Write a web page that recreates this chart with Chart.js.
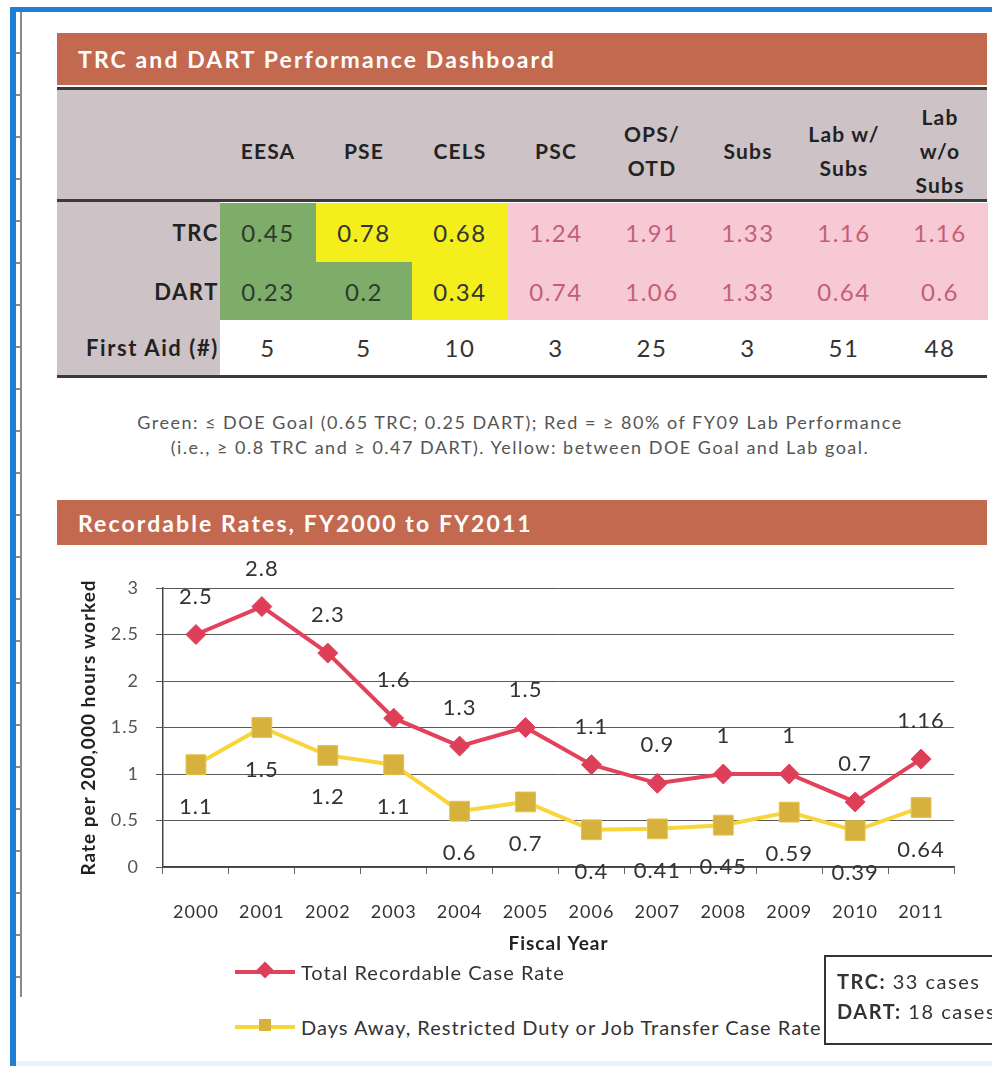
<!DOCTYPE html>
<html>
<head>
<meta charset="utf-8">
<script src="https://cdn.jsdelivr.net/npm/chart.js@4.4.1/dist/chart.umd.min.js"></script>
<style>
body{margin:0;width:992px;height:1066px;background:#fff;position:relative;overflow:hidden;font-family:Lato,"Open Sans",sans-serif;color:#333}
.abs{position:absolute}
#frameTop{left:10px;top:7px;width:982px;height:5px;background:#1f7fd6}
#frameLeft{left:10px;top:7px;width:6px;height:1059px;background:#1f7fd6}
#ruler{left:16px;top:12px;width:6px;height:985px;border-right:2px solid #8a8a8a;box-sizing:border-box;background:repeating-linear-gradient(to bottom,transparent 0,transparent 40px,#8a8a8a 40px,#8a8a8a 42px)}
#bottomBand{left:16px;top:1061px;width:976px;height:5px;background:#e2f5fb}
.band{left:57px;width:930px;background:#c3694f;color:#fff;font-weight:bold;font-size:23px;letter-spacing:2.1px;padding-left:21px;box-sizing:border-box;display:flex;align-items:center}
.cell{position:absolute;display:flex;align-items:center;justify-content:center;text-align:center;box-sizing:border-box}
.hline{position:absolute;left:57px;width:930px;height:3px;background:#3a3a3a}
#note{left:60px;width:920px;top:410px;text-align:center;font-size:18px;letter-spacing:1.5px;line-height:25px;color:#555}
.legItem{position:absolute;left:235px;height:30px;display:flex;align-items:center;font-size:20px;letter-spacing:1px;color:#333}
.legItem .sample{position:relative;width:60px;height:4px;margin-right:6px}
.legItem .mark{position:absolute;left:24px;top:-6px;width:12px;height:12px}
#caseBox{left:824px;top:955px;width:190px;height:90px;border:2.5px solid #333;box-sizing:border-box;padding:9px 0 0 11px;font-size:20px;letter-spacing:1.5px;line-height:30px;color:#333}
</style>
</head>
<body>
<div class="abs" id="frameTop"></div>
<div class="abs" id="frameLeft"></div>
<div class="abs" id="ruler"></div>
<div class="abs" id="bottomBand"></div>

<div class="abs band" style="top:33px;height:52px">TRC and DART Performance Dashboard</div>
<div id="table"></div>

<div class="abs" id="note">Green: ≤ DOE Goal (0.65 TRC; 0.25 DART); Red = ≥ 80% of FY09 Lab Performance<br>(i.e., ≥ 0.8 TRC and ≥ 0.47 DART). Yellow: between DOE Goal and Lab goal.</div>

<div class="abs band" style="top:500px;height:45px">Recordable Rates, FY2000 to FY2011</div>

<canvas id="rates" class="abs" style="left:60px;top:550px" width="932" height="420"></canvas>

<div class="legItem" style="top:957px"><div class="sample" style="background:#e3425c"><div class="mark" style="background:#dd3e58;transform:rotate(45deg)"></div></div>Total Recordable Case Rate</div>
<div class="legItem" style="top:1012px"><div class="sample" style="background:#f8d53a"><div class="mark" style="background:#d6b13e"></div></div>Days Away, Restricted Duty or Job Transfer Case Rate</div>

<div class="abs" id="caseBox"><b>TRC:</b> 33 cases<br><b>DART:</b> 18 cases</div>

<script>
// dashboard table
const units = ['EESA', 'PSE', 'CELS', 'PSC', 'OPS/<br>OTD', 'Subs', 'Lab w/<br>Subs', 'Lab<br>w/o<br>Subs']
const trcByUnit = ['0.45', '0.78', '0.68', '1.24', '1.91', '1.33', '1.16', '1.16']
const dartByUnit = ['0.23', '0.2', '0.34', '0.74', '1.06', '1.33', '0.64', '0.6']
const firstAid = ['5', '5', '10', '3', '25', '3', '51', '48']

// goals used for the cell colours
const trcGoal = 0.65, trcRed = 0.8
const dartGoal = 0.25, dartRed = 0.47

// chart data
const years = ['2000', '2001', '2002', '2003', '2004', '2005', '2006', '2007', '2008', '2009', '2010', '2011']
const trcRates = [2.5, 2.8, 2.3, 1.6, 1.3, 1.5, 1.1, 0.9, 1, 1, 0.7, 1.16]
const dartRates = [1.1, 1.5, 1.2, 1.1, 0.6, 0.7, 0.4, 0.41, 0.45, 0.59, 0.39, 0.64]
const yTicks = [0, 0.5, 1, 1.5, 2, 2.5, 3]

const GRAY = '#cdc2c6', GREEN = '#7dad69', YELLOW = '#f4ef1c', PINK = '#f7c9d4'

function cellStyle(v, goal, red){
	v = parseFloat(v)
	if(v <= goal) return {bg:GREEN, fg:'#2e3a2c'}
	if(v >= red) return {bg:PINK, fg:'#c45e78'}
	return {bg:YELLOW, fg:'#333'}
}

let tbl = document.getElementById('table')
let html = ''
const colX = 220, colW = 96
const valFont = 'font-size:24px;letter-spacing:1.5px'
html += `<div class="cell" style="left:57px;top:90px;width:163px;height:285px;background:${GRAY}"></div>`
html += `<div class="cell" style="left:220px;top:90px;width:767px;height:110px;background:${GRAY}"></div>`
units.forEach((u, i) => {
	let x = colX + i * colW
	html += `<div class="cell" style="left:${x}px;top:92px;width:${colW}px;height:118px;font-weight:bold;font-size:21px;letter-spacing:1.2px;line-height:34px;color:#222">${u}</div>`
	let t = cellStyle(trcByUnit[i], trcGoal, trcRed)
	let d = cellStyle(dartByUnit[i], dartGoal, dartRed)
	html += `<div class="cell" style="left:${x}px;top:203px;width:${colW}px;height:59px;background:${t.bg};color:${t.fg};${valFont}">${trcByUnit[i]}</div>`
	html += `<div class="cell" style="left:${x}px;top:262px;width:${colW}px;height:58px;background:${d.bg};color:${d.fg};${valFont}">${dartByUnit[i]}</div>`
	html += `<div class="cell" style="left:${x}px;top:320px;width:${colW}px;height:55px;background:#fff;color:#333;${valFont}">${firstAid[i]}</div>`
})
const rowLabels = [['TRC', 203, 59], ['DART', 262, 58], ['First Aid (#)', 320, 55]]
rowLabels.forEach(r => {
	html += `<div class="cell" style="left:57px;top:${r[1]}px;width:162px;height:${r[2]}px;justify-content:flex-end;font-weight:bold;font-size:22px;letter-spacing:1.6px;color:#222">${r[0]}</div>`
})
html += '<div class="hline" style="top:87px"></div><div class="hline" style="top:199px"></div><div class="hline" style="top:375px"></div>'
tbl.innerHTML = html

// slightly wider lettering, like the scanned original
const spacing = {
	id: 'spacing',
	beforeUpdate(chart){ chart.ctx.letterSpacing = '1px' },
	beforeDraw(chart){ chart.ctx.letterSpacing = '1px' }
}

// value labels over/under the points
const pointLabels = {
	id: 'pointLabels',
	afterDatasetsDraw(chart){
		let ctx = chart.ctx
		chart.data.datasets.forEach((ds, i) => {
			let meta = chart.getDatasetMeta(i)
			let dy = i === 0 ? -38 : 42
			meta.data.forEach((pt, j) => {
				ctx.save()
				ctx.font = '22px Lato, "Open Sans", sans-serif'
				ctx.letterSpacing = '1px'
				ctx.fillStyle = '#333'
				ctx.textAlign = 'center'
				ctx.textBaseline = 'middle'
				ctx.fillText(String(ds.data[j]), pt.x, pt.y + dy)
				ctx.restore()
			})
		})
	}
}

new Chart(document.getElementById('rates'), {
	type: 'line',
	data: {
		labels: years,
		datasets: [
			{
				label: 'Total Recordable Case Rate',
				data: trcRates,
				borderColor: '#e3425c',
				backgroundColor: '#dd3e58',
				borderWidth: 4,
				pointStyle: 'rectRot',
				pointRadius: 10,
				pointBorderWidth: 1,
				tension: 0
			},
			{
				label: 'Days Away, Restricted Duty or Job Transfer Case Rate',
				data: dartRates,
				borderColor: '#f8d53a',
				backgroundColor: '#d6b13e',
				pointBorderColor: '#e4c246',
				borderWidth: 4,
				pointStyle: 'rect',
				pointRadius: 14,
				pointBorderWidth: 1,
				tension: 0
			}
		]
	},
	options: {
		responsive: false,
		animation: false,
		layout: {padding: {top: 38, right: 38, left: 0, bottom: 0}},
		plugins: {legend: {display: false}, tooltip: {enabled: false}},
		scales: {
			x: {
				offset: true,
				afterFit(scale){ scale.height = 103 },
				grid: {display: true, drawOnChartArea: false, offset: true, tickLength: 7, color: '#666'},
				border: {color: '#444', width: 1.5},
				ticks: {font: {size: 18, family: 'Lato'}, color: '#333', padding: 27, maxRotation: 0},
				title: {display: true, text: 'Fiscal Year', font: {size: 19, weight: 'bold', family: 'Lato'}, color: '#222', padding: {top: 0, bottom: 15}}
			},
			y: {
				min: 0,
				max: 3,
				afterFit(scale){ scale.width = 103 },
				afterBuildTicks(scale){ scale.ticks = yTicks.map(v => ({value: v})) },
				grid: {color: '#5a5a5a', lineWidth: 1, tickLength: 7},
				border: {color: '#444', width: 1.5},
				ticks: {font: {size: 18, family: 'Lato'}, color: '#555', padding: 17, callback: v => String(v)},
				title: {display: true, text: 'Rate per 200,000 hours worked', font: {size: 19, weight: 'bold', family: 'Lato'}, color: '#222', padding: {top: 17}}
			}
		}
	},
	plugins: [spacing, pointLabels]
})
</script>
</body>
</html>
